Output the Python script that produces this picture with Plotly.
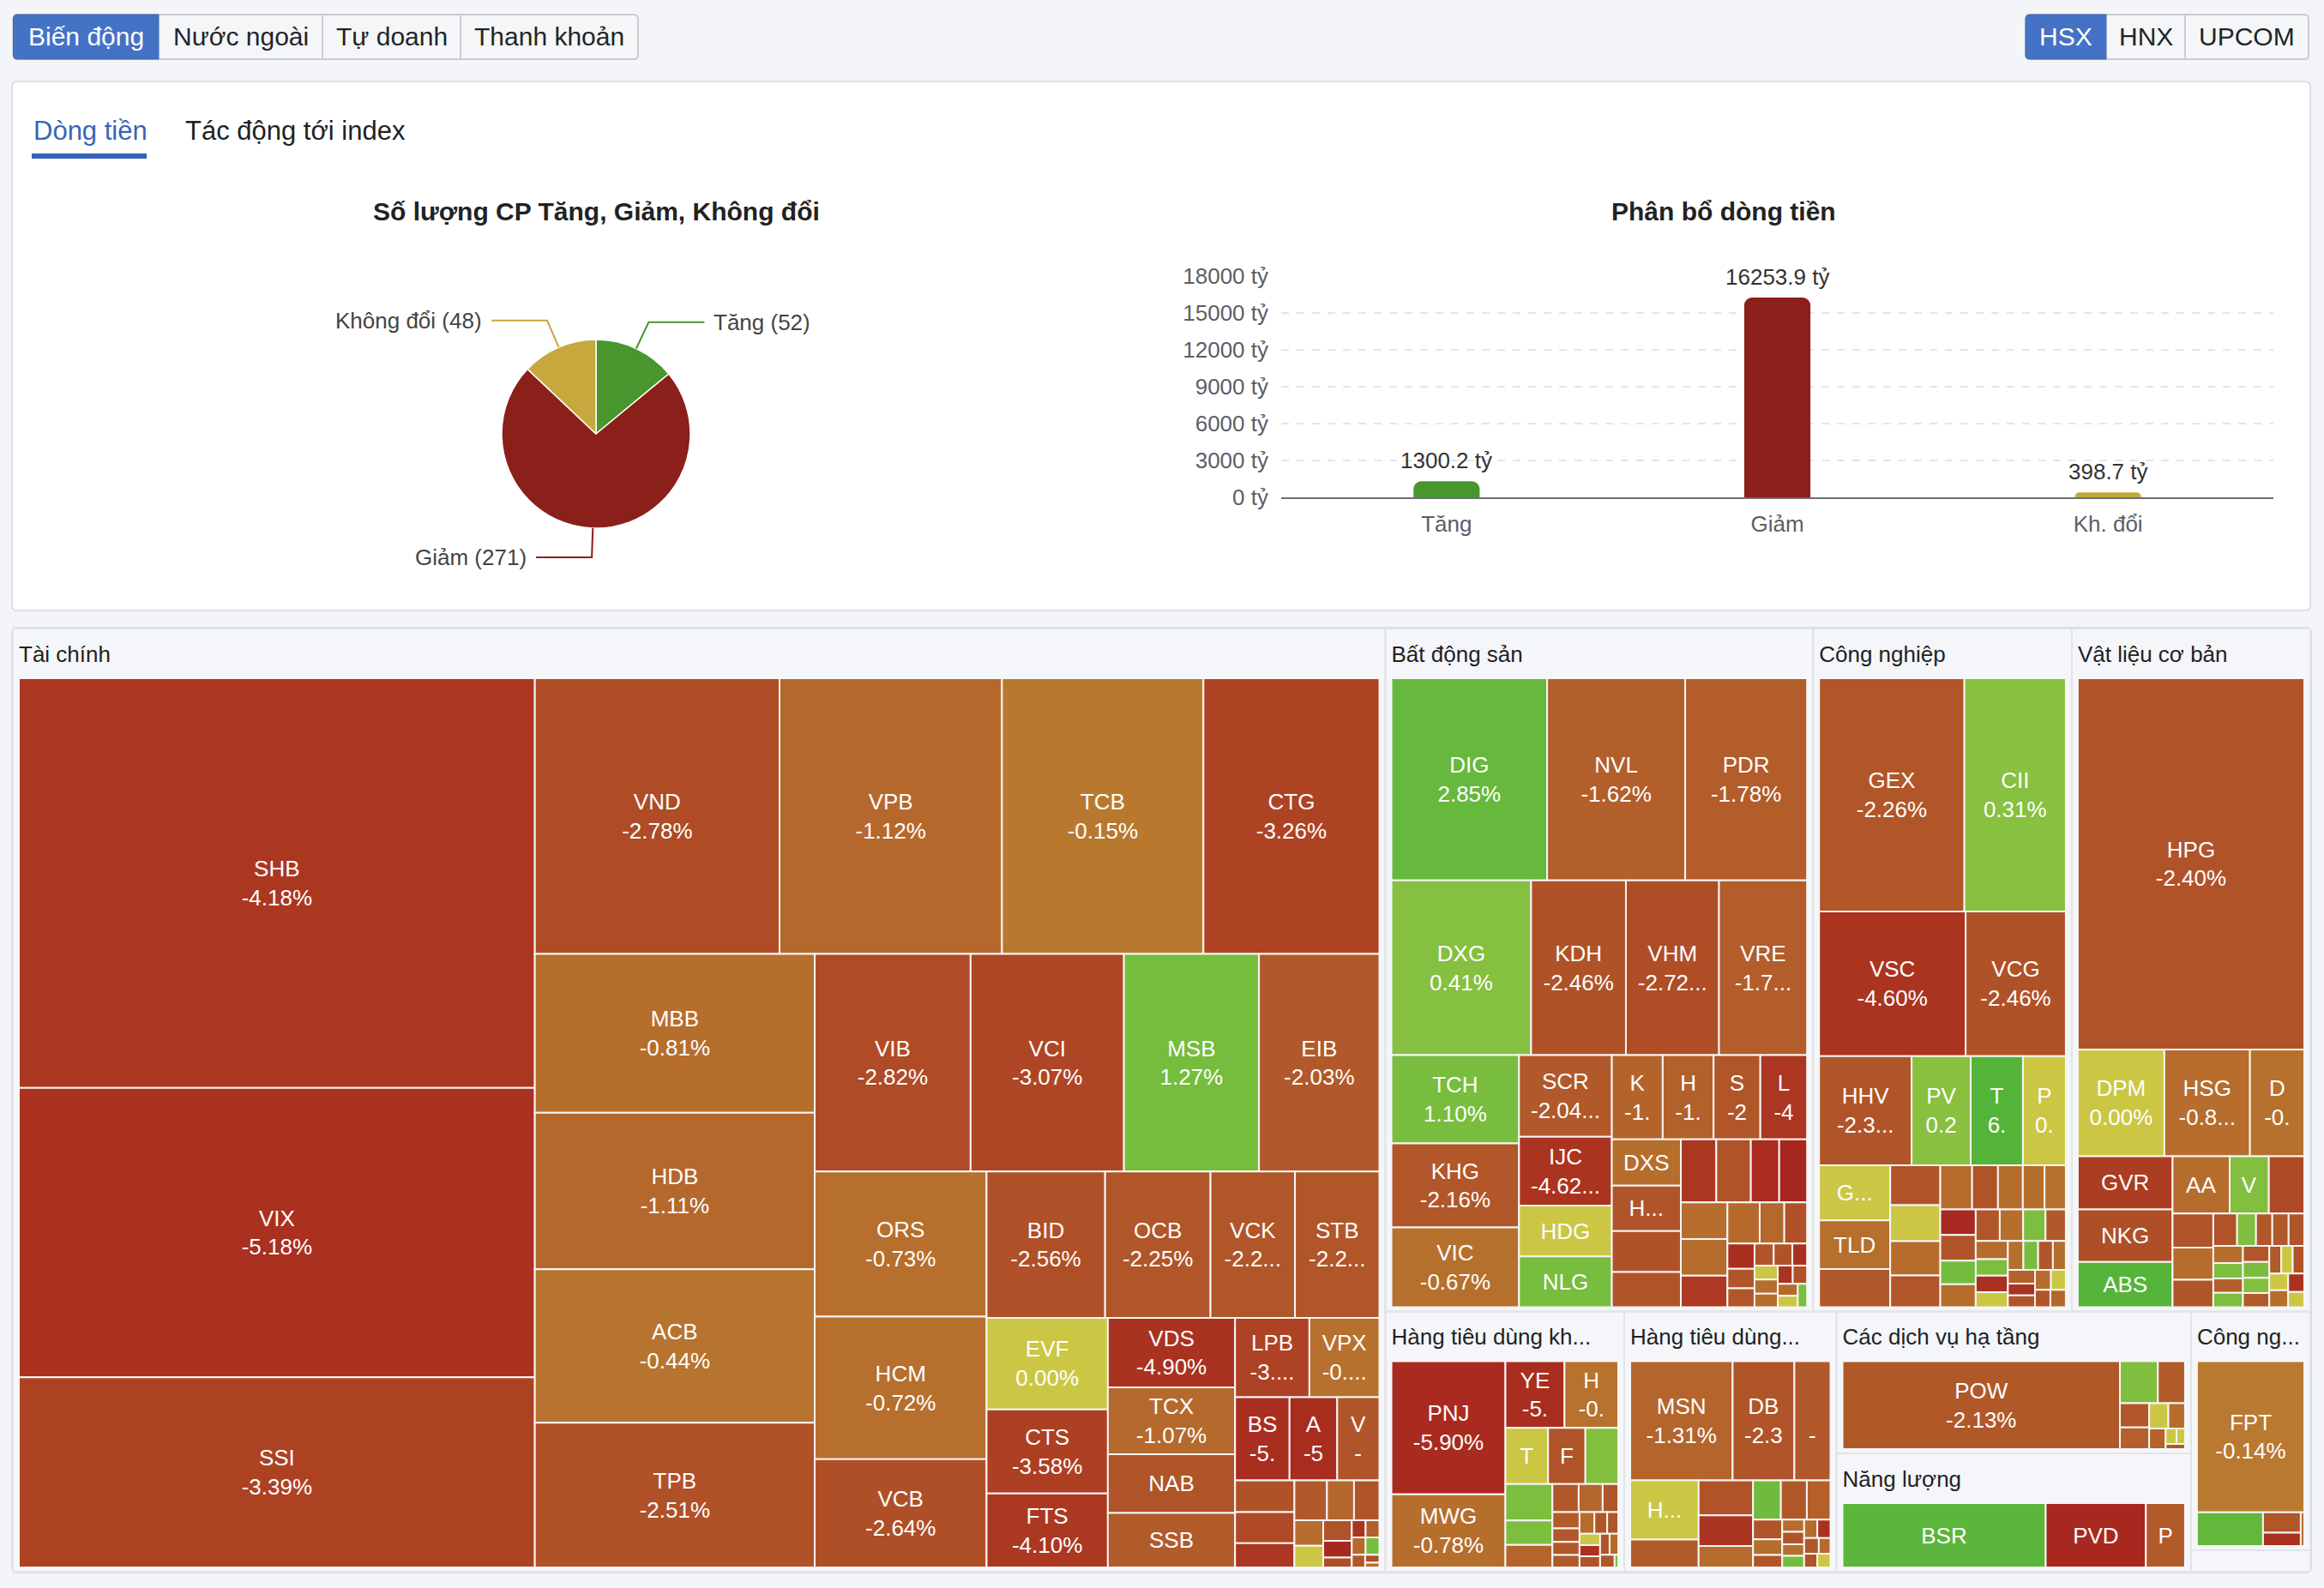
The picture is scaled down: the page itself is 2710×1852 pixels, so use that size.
import math
import plotly.graph_objects as go

W, H = 2710, 1852
FONT = "Liberation Sans, Arial, Helvetica, sans-serif"

# ---------------- data: pie ----------------
pie_labels = ["Tăng", "Giảm", "Không đổi"]
pie_counts = [52, 271, 48]
pie_colors = ["#48962d", "#8b1f1a", "#c6a83c"]

# ---------------- data: bar ----------------
bar_categories = ["Tăng", "Giảm", "Kh. đổi"]
bar_values = [1300.2, 16253.9, 398.7]

# ---------------- data: treemap (value in tỷ, % change) ----------------
sector_names = ["Tài chính", "Bất động sản", "Công nghiệp", "Vật liệu cơ bản",
                "Hàng tiêu dùng không thiết yếu", "Hàng tiêu dùng thiết yếu",
                "Các dịch vụ hạ tầng", "Năng lượng", "Công nghệ thông tin", "Y tế"]
sector_headers = ["Tài chính", "Bất động sản", "Công nghiệp", "Vật liệu cơ bản",
                  "Hàng tiêu dùng kh...", "Hàng tiêu dùng...",
                  "Các dịch vụ hạ tầng", "Năng lượng", "Công ng...", "Y tế"]

fin_codes = ["SHB", "VIX", "SSI", "VND", "VPB", "TCB", "CTG", "MBB", "HDB", "ACB",
             "TPB", "VIB", "VCI", "MSB", "EIB", "ORS", "HCM", "VCB", "BID", "OCB",
             "VCK", "STB", "EVF", "CTS", "FTS", "VDS", "TCX", "NAB", "SSB", "LPB",
             "VPX", "BSI", "AGR", "VAB", "BVH", "DSE", "APG", "FIT", "BMI", "TVS",
             "PGI", "BIC", "MIG", "TVB", "DSC", "TVC", "BVS", "HBS", "IVS", "APS",
             "VIG", "SBS"]
fin_values = [1864, 1317, 865, 595, 541, 490, 428, 392, 386, 379,
              357, 299, 294, 259, 231, 220, 216, 164, 153, 136,
              109, 109, 98, 90, 79, 78, 75, 66, 61, 52,
              49, 40, 35, 31, 16.6, 16.2, 12.7, 11.4, 9.5, 8.9,
              6.5, 5.5, 5.2, 4.2, 2.5, 2.1, 2.1, 2.1, 2.1, 1.5,
              1.0, 0.6]
fin_pcts = [-4.18, -5.18, -3.39, -2.78, -1.12, -0.15, -3.26, -0.81, -1.11, -0.44,
            -2.51, -2.82, -3.07, 1.27, -2.03, -0.73, -0.72, -2.64, -2.56, -2.25,
            -2.24, -2.21, 0.00, -3.58, -4.10, -4.90, -1.07, -2.35, -1.95, -3.35,
            -0.62, -5.46, -5.61, -2.30, -2.48, -2.92, -4.35, -2.06, -1.20, -2.33,
            -0.85, 0.00, -2.40, -6.50, -2.60, -4.60, -1.60, -1.00, 1.20, -2.20,
            -2.50, -0.90]

re_codes = ["DIG", "NVL", "PDR", "DXG", "KDH", "VHM", "VRE", "TCH", "KHG", "VIC",
            "SCR", "IJC", "HDG", "NLG", "KBC", "HDC", "SZC", "LDG", "DXS", "HQC",
            "NTL", "CCL", "QCG", "CRE", "TDC", "HPX", "SJS", "AGG", "DRH", "NBB",
            "SIP", "D2D", "FIR", "HAR", "LHG", "PTL", "TEG", "VPI", "CKG", "TN1",
            "ITA", "EVG", "SGR", "TIP", "DTA", "NVT"]
re_values = [290.0, 257.0, 227.0, 224.6, 152.5, 149.7, 141.6, 103.7, 98.7, 93.7,
             69.8, 58.8, 43.4, 43.4, 39.4, 39.4, 36.2, 36.2, 29.4, 28.9,
             26.1, 22.3, 20.6, 20.1, 16.5, 16.2, 15.7, 15.7, 13.5, 12.2,
             9.3, 8.6, 6.3, 4.9, 4.7, 3.9, 3.8, 3.0, 3.0, 3.0,
             2.9, 2.5, 2.4, 2.2, 2.1, 2.0]
re_pcts = [2.85, -1.62, -1.78, 0.41, -2.46, -2.72, -1.74, 1.10, -2.16, -0.67,
           -2.04, -4.62, 0.00, 1.15, -1.35, -1.52, -2.20, -4.35, -0.80, -2.30,
           -2.45, -2.35, -4.20, -2.40, -5.80, -6.30, -0.85, -0.90, -4.00, -1.00,
           -1.10, -2.50, -5.50, -2.30, -2.20, -2.30, -2.40, -5.00, 0.00, -0.80,
           -0.90, -4.80, -2.50, -1.00, 0.00, 1.00]

ind_codes = ["GEX", "CII", "VSC", "VCG", "HHV", "PVT", "TCO", "PC1", "GMD", "TLD",
             "HAH", "CTD", "VTP", "SCS", "DPG", "LCG", "FCN", "VOS", "PHC", "DHA",
             "HID", "TV2", "SAM", "VNE", "CDC", "SKG", "GEE", "PAC", "STG", "VIP",
             "HTN", "SFI", "TCL", "TIX", "SGN", "DVP", "HCD", "VTO", "TYA", "PDN",
             "NO1", "SRF", "SHI"]
ind_values = [318.0, 222.0, 199.0, 136.0, 94.8, 60.5, 53.5, 43.9, 36.7, 32.6,
              25.4, 18.7, 17.0, 16.1, 14.9, 13.2, 10.7, 10.3, 8.8, 9.0,
              8.5, 8.5, 7.9, 7.6, 7.1, 6.9, 6.6, 6.0, 5.5, 5.0,
              5.0, 4.5, 4.2, 4.0, 4.0, 3.5, 3.5, 3.0, 3.0, 3.0,
              2.8, 2.5, 2.5]
ind_pcts = [-2.26, 0.31, -4.60, -2.46, -2.35, 0.25, 6.93, 0.00, 0.00, -0.75,
            -2.10, -2.30, 0.00, -0.90, -2.20, -0.90, -2.40, -0.80, -0.70, -0.80,
            -6.20, -2.30, 1.50, -0.90, -2.20, -0.80, 0.90, -2.10, -0.90, 0.80,
            -5.20, 0.00, -0.70, 1.00, -2.20, -0.80, -1.50, -5.00, -2.30, -0.90,
            0.00, -2.30, -1.20]

mat_codes = ["HPG", "DPM", "HSG", "DCM", "GVR", "NKG", "ABS", "AAA", "VPG", "HT1",
             "CSV", "DHC", "LAS", "TLH", "PHR", "BMP", "BFC", "SMC", "TNI", "TRC",
             "NHH", "APH", "VFG", "CSM", "DPR", "TDP", "HII", "DRC", "TNC", "HVX",
             "VCA", "POM", "HAP"]
mat_values = [792.4, 87.0, 86.0, 54.6, 47.5, 47.0, 40.3, 30.8, 21.1, 19.1,
              13.1, 12.4, 10.5, 7.3, 5.8, 5.0, 5.0, 4.8, 4.8, 4.3,
              4.0, 4.0, 4.0, 3.9, 3.8, 3.5, 3.1, 3.0, 3.0, 3.0,
              3.0, 2.8, 2.3]
mat_pcts = [-2.40, 0.00, -0.85, -0.60, -3.85, -2.60, 6.90, -0.90, 0.60, -2.90,
            -2.30, -0.90, -2.30, -2.40, 0.70, -2.10, -2.10, -2.30, -0.80, 0.80,
            -1.50, 0.90, -2.20, 1.00, 0.50, -2.00, -2.00, 0.00, -2.40, 0.00,
            -0.80, -5.00, 0.00]

cd_codes = ["PNJ", "MWG", "YEG", "HAX", "TCM", "FRT", "DGW", "PET", "MSH", "STK",
            "CTF", "SVC", "HTG", "ADS", "DSN", "EVE", "TCT", "TMT", "SFC", "GDT",
            "SAV", "TTF", "HTL", "GMC", "SVD", "TDH", "HMC"]
cd_values = [166.1, 91.3, 43.2, 39.3, 26.2, 22.9, 20.2, 18.7, 12.6, 11.6,
             8.1, 7.4, 4.8, 4.8, 4.0, 3.9, 3.7, 3.5, 3.0, 2.6,
             2.6, 2.5, 2.5, 2.2, 2.0, 2.0, 0.5]
cd_pcts = [-5.90, -0.78, -5.50, -0.55, 0.00, -2.30, 0.60, 0.90, 0.80, -1.30,
           -2.20, -1.20, -2.30, -2.00, -2.10, -2.10, -2.00, -0.90, -2.20, -2.30,
           0.00, -5.00, -2.40, -2.40, -1.00, -2.20, 1.20]

cs_codes = ["MSN", "DBC", "VNM", "HAG", "BAF", "SAB", "ANV", "VHC", "SBT", "KDC",
            "IDI", "LSS", "HNG", "SBV", "VCF", "SMB", "CMX", "FMC", "PAN", "ASM",
            "NAF", "AAM", "TSC", "MCM"]
cs_values = [134.5, 81.1, 47.5, 44.6, 21.0, 20.9, 18.5, 12.8, 12.0, 11.2,
             10.2, 6.4, 5.0, 4.0, 3.0, 3.0, 2.8, 2.8, 2.7, 2.7,
             2.5, 2.0, 2.0, 2.0]
cs_pcts = [-1.31, -2.35, -2.10, 0.00, -1.90, -2.40, -4.50, -0.90, 1.90, -2.10,
           -1.60, -2.30, -0.80, -2.20, -0.90, -2.30, -0.80, 1.50, -0.90, -5.00,
           -2.10, -1.00, -2.30, 0.00]

ut_codes = ["POW", "GEG", "REE", "NT2", "PPC", "BWE", "TDM", "VSH", "SJD", "TTA", "KHP"]
ut_values = [336.0, 21.9, 15.7, 9.8, 8.7, 6.7, 5.8, 4.7, 2.3, 1.8, 1.4]
ut_pcts = [-2.13, 0.70, -1.90, -2.20, -1.60, 0.00, -0.90, -1.40, 0.00, 0.00, -2.10]

en_codes = ["BSR", "PVD", "PLX"]
en_values = [205.0, 101.0, 39.5]
en_pcts = [5.50, -6.50, -2.00]

it_codes = ["FPT", "CMG", "ELC", "ITD", "SGT"]
it_values = [191.9, 26.4, 9.1, 6.0, 1.4]
it_pcts = [-0.14, 3.50, -2.20, -5.00, -0.80]

hc_codes = ["DHG", "IMP", "DBD"]
hc_values = [11.0, 6.0, 4.0]
hc_pcts = [-1.00, -0.50, 0.00]

sector_codes = [fin_codes, re_codes, ind_codes, mat_codes, cd_codes, cs_codes,
                ut_codes, en_codes, it_codes, hc_codes]
sector_values = [fin_values, re_values, ind_values, mat_values, cd_values, cs_values,
                 ut_values, en_values, it_values, hc_values]
sector_pcts = [fin_pcts, re_pcts, ind_pcts, mat_pcts, cd_pcts, cs_pcts,
               ut_pcts, en_pcts, it_pcts, hc_pcts]

# ---------------- styling helpers ----------------
PAGE_BG = "#f3f5f8"
SECTOR_BG = "#f4f6f9"
SECTOR_LINE = "#e1e4e8"
LEAF_LINE = "#f6f6f6"
TRANSP = "rgba(0,0,0,0)"
LEAF_FONT = 26

NEG = [(-7.0, (167, 36, 30)), (-5.9, (169, 43, 31)), (-4.2, (171, 55, 33)),
       (-3.2, (174, 68, 36)), (-2.3, (176, 85, 41)), (-1.5, (179, 97, 43)),
       (-0.8, (182, 110, 45)), (-0.01, (185, 123, 48))]
POS = [(0.01, (140, 193, 64)), (0.3, (136, 192, 64)), (1.1, (120, 189, 62)),
       (2.85, (102, 185, 60)), (7.0, (84, 180, 58))]
ZERO = (203, 199, 68)


def interp(stops, v):
    if v <= stops[0][0]:
        c = stops[0][1]
    elif v >= stops[-1][0]:
        c = stops[-1][1]
    else:
        for (a, ca), (b, cb) in zip(stops[:-1], stops[1:]):
            if a <= v <= b:
                t = (v - a) / (b - a)
                c = tuple(ca[i] + (cb[i] - ca[i]) * t for i in range(3))
                break
    return "#%02x%02x%02x" % tuple(int(round(x)) for x in c)


def pct_color(p):
    if abs(p) < 0.005:
        return "#%02x%02x%02x" % ZERO
    return interp(NEG if p < 0 else POS, p)


def X(px):
    return px / W


def Y(py):
    return 1 - py / H


def rpath(x0, y0, x1, y1, rl, rr):
    return (f"M {X(x0 + rl)},{Y(y0)} L {X(x1 - rr)},{Y(y0)} "
            f"Q {X(x1)},{Y(y0)} {X(x1)},{Y(y0 + rr)} L {X(x1)},{Y(y1 - rr)} "
            f"Q {X(x1)},{Y(y1)} {X(x1 - rr)},{Y(y1)} L {X(x0 + rl)},{Y(y1)} "
            f"Q {X(x0)},{Y(y1)} {X(x0)},{Y(y1 - rl)} L {X(x0)},{Y(y0 + rl)} "
            f"Q {X(x0)},{Y(y0)} {X(x0 + rl)},{Y(y0)} Z")


# ---- label fitting: mirror the treemap tiling (squarify, golden ratio) to know
# ---- each cell's size, then keep only the label lines that fit (like the original)
TM_X0, TM_X1, TM_Y0, TM_Y1 = 8, 2701, 675, 1838
PAD_T, PAD_L, PAD_R, PAD_B = 58, 7, 7, 5
RATIO = 1.618034

CW = {"A": .667, "B": .667, "C": .722, "D": .722, "E": .667, "F": .611, "G": .778,
      "H": .722, "I": .278, "J": .5, "K": .667, "L": .556, "M": .833, "N": .722,
      "O": .778, "P": .667, "Q": .778, "R": .722, "S": .667, "T": .611, "U": .722,
      "V": .667, "W": .944, "X": .667, "Y": .667, "Z": .611, "-": .333, ".": .278,
      "%": .889, " ": .278}
ELLIPSIS_MIN = (2 * .556 + .834) * LEAF_FONT


def tw(s):
    return sum(CW.get(ch, .556) for ch in s) * LEAF_FONT


def fit(s, cap):
    if tw(s) <= cap:
        return s
    if cap >= ELLIPSIS_MIN:
        for k in range(len(s) - 1, 0, -1):
            if tw(s[:k] + "...") <= cap:
                return s[:k] + "..."
    for k in range(len(s) - 1, 0, -1):
        if tw(s[:k]) <= cap:
            return s[:k]
    return ""


def squarify(vals, x0, y0, x1, y1):
    n = len(vals)
    rects = [(x0, y0, x0, y0)] * n
    if n == 0 or x1 - x0 <= 0 or y1 - y0 <= 0:
        mx, my = (x0 + x1) / 2, (y0 + y1) / 2
        return [(mx, my, mx, my)] * n
    value = float(sum(vals))
    i0 = i1 = 0
    while i0 < n:
        dx, dy = x1 - x0, y1 - y0
        while True:
            s = vals[i1]
            i1 += 1
            if s or i1 >= n:
                break
        mn = mx = s
        alpha = max(dy / dx, dx / dy) / (value * RATIO)
        beta = s * s * alpha
        min_r = max(mx / beta, beta / mn)
        while i1 < n:
            nv = vals[i1]
            s += nv
            mn = min(mn, nv)
            mx = max(mx, nv)
            beta = s * s * alpha
            new_r = max(mx / beta, beta / mn)
            if new_r > min_r:
                s -= nv
                break
            min_r = new_r
            i1 += 1
        if dx < dy:
            ny = y0 + dy * s / value
            k = (x1 - x0) / s
            xx = x0
            for i in range(i0, i1):
                rects[i] = (xx, y0, xx + vals[i] * k, ny)
                xx += vals[i] * k
            y0 = ny
        else:
            nx = x0 + dx * s / value
            k = (y1 - y0) / s
            yy = y0
            for i in range(i0, i1):
                rects[i] = (x0, yy, nx, yy + vals[i] * k)
                yy += vals[i] * k
            x0 = nx
        value -= s
        i0 = i1
    return rects


def inner(r):
    x0, y0, x1, y1 = r
    x0, y0, x1, y1 = x0 + PAD_L, y0 + PAD_T, x1 - PAD_R, y1 - PAD_B
    if x1 < x0:
        x0 = x1 = (x0 + x1) / 2
    if y1 < y0:
        y0 = y1 = (y0 + y1) / 2
    return x0, y0, x1, y1


sec_tot = [sum(v) for v in sector_values]
sec_order = sorted(range(len(sec_tot)), key=lambda i: -sec_tot[i])
sec_rects = dict(zip(sec_order, squarify([sec_tot[i] for i in sec_order],
                                         *inner((0, 0, TM_X1 - TM_X0, TM_Y1 - TM_Y0)))))
leaf_size = {}
for s_i, vals in enumerate(sector_values):
    order = sorted(range(len(vals)), key=lambda i: -vals[i])
    for i, r in zip(order, squarify([vals[i] for i in order], *inner(sec_rects[s_i]))):
        leaf_size[(s_i, i)] = (r[2] - r[0], r[3] - r[1])


def leaf_label(code, pct, w, h):
    cap = w - 27
    pct_s = f"{pct:.2f}%"
    if h >= 76:
        lines = [fit(code, cap), fit(pct_s, cap)]
    elif h >= 49:
        lines = [fit(code, cap)]
    else:
        lines = []
    if not any(lines):
        return " "
    return "<br>".join(l if l else " " for l in lines)


shapes = []
annotations = []


def add_text(txt, x, y, size, color, xanchor="center", bold=False):
    annotations.append(dict(text=("<b>%s</b>" % txt) if bold else txt, x=X(x), y=Y(y),
                            xref="paper", yref="paper", xanchor=xanchor, yanchor="middle",
                            showarrow=False, font=dict(family=FONT, size=size, color=color)))


# ---------------- page chrome ----------------
shapes.append(dict(type="path", path=rpath(15.5, 17, 744, 69, 5, 5), xref="paper", yref="paper",
                   fillcolor="#f5f6f8", line=dict(color="#c9ccd1", width=2), layer="below"))
shapes.append(dict(type="path", path=rpath(15.5, 17, 185, 69, 5, 0), xref="paper", yref="paper",
                   fillcolor="#4472c4", line=dict(color="#3e68b5", width=1), layer="below"))
for sx in (376, 537):
    shapes.append(dict(type="line", x0=X(sx), x1=X(sx), y0=Y(18), y1=Y(68), xref="paper", yref="paper",
                       line=dict(color="#c9ccd1", width=2), layer="below"))
add_text("Biến động", 100, 43, 30, "#ffffff")
add_text("Nước ngoài", 280.5, 43, 30, "#212529")
add_text("Tự doanh", 456.5, 43, 30, "#212529")
add_text("Thanh khoản", 640.5, 43, 30, "#212529")

shapes.append(dict(type="path", path=rpath(2362, 17, 2692, 69, 5, 5), xref="paper", yref="paper",
                   fillcolor="#f5f6f8", line=dict(color="#c9ccd1", width=2), layer="below"))
shapes.append(dict(type="path", path=rpath(2362, 17, 2456, 69, 5, 0), xref="paper", yref="paper",
                   fillcolor="#4472c4", line=dict(color="#3e68b5", width=1), layer="below"))
shapes.append(dict(type="line", x0=X(2548), x1=X(2548), y0=Y(18), y1=Y(68), xref="paper", yref="paper",
                   line=dict(color="#c9ccd1", width=2), layer="below"))
add_text("HSX", 2409, 43, 30, "#ffffff")
add_text("HNX", 2502, 43, 30, "#212529")
add_text("UPCOM", 2620, 43, 30, "#212529")

shapes.append(dict(type="path", path=rpath(14, 95, 2694, 712, 6, 6), xref="paper", yref="paper",
                   fillcolor="#ffffff", line=dict(color="#dcdfe3", width=2), layer="below"))
add_text("Dòng tiền", 37, 153, 31, "#3a64b8", xanchor="left")
add_text("Tác động tới index", 214, 153, 31, "#222222", xanchor="left")
shapes.append(dict(type="rect", x0=X(37), x1=X(171), y0=Y(185), y1=Y(179), xref="paper", yref="paper",
                   fillcolor="#3462b9", line=dict(width=0), layer="below"))

shapes.append(dict(type="path", path=rpath(14, 732, 2695, 1834, 6, 6), xref="paper", yref="paper",
                   fillcolor=SECTOR_BG, line=dict(color="#d6d9de", width=2), layer="below"))

add_text("Số lượng CP Tăng, Giảm, Không đổi", 695, 247, 30, "#222222", bold=True)
add_text("Phân bổ dòng tiền", 2010, 247, 30, "#222222", bold=True)

# ---------------- pie ----------------
PCX, PCY, PR = 695, 506, 110
fig = go.Figure()
fig.add_trace(go.Pie(
    labels=pie_labels, values=pie_counts, sort=False, direction="clockwise", rotation=0,
    marker=dict(colors=pie_colors, line=dict(color="#ffffff", width=1.5)),
    textinfo="none", hoverinfo="label+value",
    domain=dict(x=[X(PCX - PR), X(PCX + PR)], y=[Y(PCY + PR), Y(PCY - PR)]),
    showlegend=False))

total = sum(pie_counts)
cum = 0
for lab, v, col in zip(pie_labels, pie_counts, pie_colors):
    ang = math.radians((cum + v / 2) / total * 360)
    cum += v
    sx, sy = math.sin(ang), -math.cos(ang)
    p0 = (PCX + PR * sx, PCY + PR * sy)
    p1 = (PCX + (PR + 34) * sx, PCY + (PR + 34) * sy)
    d = 1 if sx >= 0 else -1
    p2 = (p1[0] + d * 65, p1[1])
    shapes.append(dict(type="path", xref="paper", yref="paper",
                       path=f"M {X(p0[0])},{Y(p0[1])} L {X(p1[0])},{Y(p1[1])} L {X(p2[0])},{Y(p2[1])}",
                       line=dict(color=col, width=2)))
    add_text(f"{lab} ({v})", p2[0] + d * 9, p2[1], 26, "#444444",
             xanchor="left" if d > 0 else "right")

# ---------------- bar ----------------
fig.add_trace(go.Bar(
    x=bar_categories, y=bar_values, width=0.2,
    marker=dict(color=pie_colors, cornerradius=9, line=dict(width=0)),
    showlegend=False, hoverinfo="x+y"))
for c, v in zip(bar_categories, bar_values):
    annotations.append(dict(text=f"{v:.1f} tỷ", x=c, y=v, xref="x", yref="y",
                            xanchor="center", yanchor="bottom", yshift=7, showarrow=False,
                            font=dict(family=FONT, size=26, color="#333333")))

# ---------------- treemap ----------------
ids = ["root"]
parents = [""]
values = [0]
labA = [" "]
labB = [" "]
colB = [TRANSP]
txtA = [""]
txtB = [""]
lcol = [TRANSP]
lwid = [0]
for s_i, (name, head, codes, vals, pcts) in enumerate(zip(sector_names, sector_headers, sector_codes,
                                                          sector_values, sector_pcts)):
    ids.append(name)
    parents.append("root")
    values.append(0)
    labA.append(head)
    labB.append(" ")
    colB.append(TRANSP)
    txtA.append("")
    txtB.append("")
    lcol.append(SECTOR_LINE)
    lwid.append(2)
    for i, (c, v, p) in enumerate(zip(codes, vals, pcts)):
        ids.append(name + "/" + c)
        parents.append(name)
        values.append(v)
        labA.append(" ")
        labB.append(c)
        colB.append(pct_color(p))
        txtA.append(" ")
        w, h = leaf_size[(s_i, i)]
        txtB.append(leaf_label(c, p, w, h))
        lcol.append(LEAF_LINE)
        lwid.append(2)

tm_common = dict(ids=ids, parents=parents, values=values,
                 branchvalues="remainder", sort=True,
                 tiling=dict(packing="squarify", squarifyratio=RATIO, pad=0),
                 pathbar=dict(visible=False), root=dict(color=TRANSP),
                 textinfo="text")
fig.add_trace(go.Treemap(
    **tm_common, labels=labB, text=txtB, textposition="middle center",
    domain=dict(x=[X(TM_X0), X(TM_X1)], y=[Y(TM_Y1), Y(TM_Y0)]),
    hoverinfo="label+text",
    marker=dict(colors=colB, depthfade=False, pad=dict(t=PAD_T, l=PAD_L, r=PAD_R, b=PAD_B),
                line=dict(color=lcol, width=lwid)),
    textfont=dict(family=FONT, size=LEAF_FONT, color="#ffffff")))
HDR_SHIFT = 12
fig.add_trace(go.Treemap(
    **tm_common, labels=labA, text=txtA, textposition="top left",
    domain=dict(x=[X(TM_X0), X(TM_X1)], y=[Y(TM_Y1 + HDR_SHIFT), Y(TM_Y0 + HDR_SHIFT)]),
    hoverinfo="skip",
    marker=dict(colors=[TRANSP] * len(ids), depthfade=False,
                pad=dict(t=PAD_T, l=PAD_L, r=PAD_R, b=PAD_B),
                line=dict(color=TRANSP, width=0)),
    textfont=dict(family=FONT, size=26, color="#222222")))

# ---------------- layout ----------------
fig.update_layout(
    width=W, height=H, margin=dict(l=0, r=0, t=0, b=0, pad=0), autosize=False,
    paper_bgcolor=PAGE_BG, plot_bgcolor="rgba(0,0,0,0)",
    font=dict(family=FONT, size=26, color="#333333"),
    showlegend=False,
    uniformtext=dict(minsize=26, mode="hide"),
    xaxis=dict(domain=[X(1494), X(2651)], anchor="y", type="category",
               showline=True, linecolor="#6e7079", linewidth=2, ticks="",
               showgrid=False, zeroline=False, ticklabelstandoff=7, automargin=False,
               tickfont=dict(family=FONT, size=26, color="#5b5e66"), fixedrange=True),
    yaxis=dict(domain=[Y(580), Y(322)], anchor="x", range=[0, 18000], dtick=3000, tick0=0,
               tickformat="d", ticksuffix=" tỷ", showgrid=True, gridcolor="#e0e6f1",
               gridwidth=2, griddash="dash", zeroline=False, showline=False, ticks="",
               ticklabelstandoff=14, automargin=False,
               tickfont=dict(family=FONT, size=26, color="#5b5e66"), fixedrange=True),
    shapes=shapes, annotations=annotations,
)

fig.write_html("out.html",
               config={"responsive": False, "displayModeBar": False},
               post_script="document.body.style.margin='0';document.body.style.overflow='hidden';")
